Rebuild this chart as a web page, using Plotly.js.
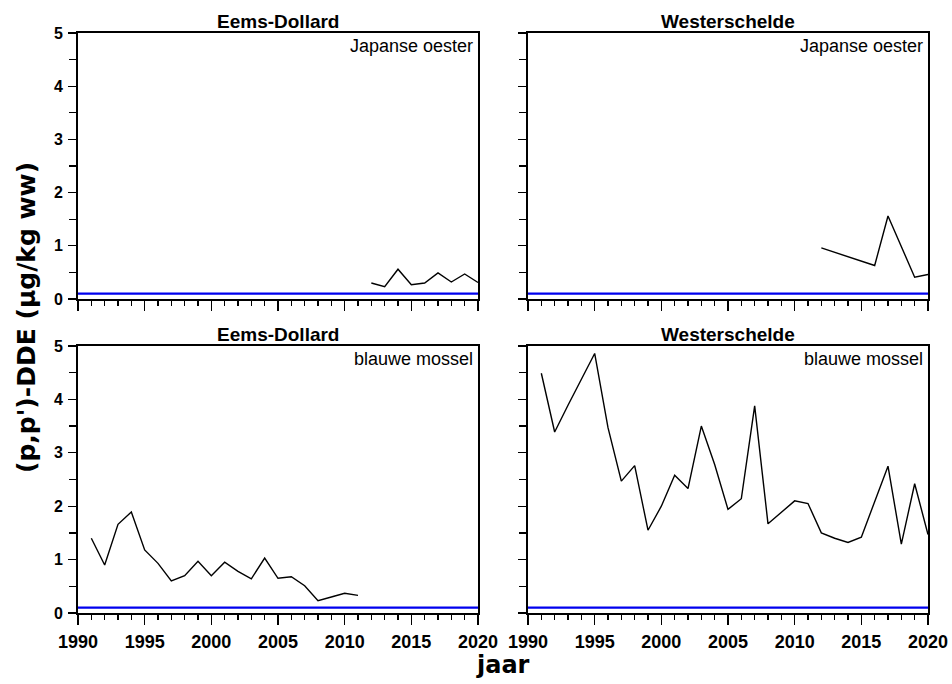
<!DOCTYPE html>
<html>
<head>
<meta charset="utf-8">
<script src="https://cdn.plot.ly/plotly-3.0.1.min.js"></script>
<style>html,body{margin:0;padding:0;background:#fff;}#chart{width:952px;height:684px;}</style>
</head>
<body>
<div id="chart"></div>
<script>
// ---- data ----
const regions = ["Eems-Dollard", "Westerschelde"];
const species = ["Japanse oester", "blauwe mossel"];

const edOesterYears = [2012, 2013, 2014, 2015, 2016, 2017, 2018, 2019, 2020];
const edOesterVals  = [0.30, 0.23, 0.56, 0.27, 0.30, 0.49, 0.32, 0.47, 0.31];

const wsOesterYears = [2012, 2016, 2017, 2018, 2019, 2020];
const wsOesterVals  = [0.96, 0.63, 1.56, 1.00, 0.41, 0.46];

const edMosselYears = [1991, 1992, 1993, 1994, 1995, 1996, 1997, 1998, 1999, 2000,
                       2001, 2002, 2003, 2004, 2005, 2006, 2007, 2008, 2009, 2010, 2011];
const edMosselVals  = [1.40, 0.90, 1.66, 1.89, 1.18, 0.93, 0.60, 0.70, 0.97, 0.70,
                       0.95, 0.78, 0.64, 1.03, 0.65, 0.68, 0.51, 0.23, 0.30, 0.37, 0.33];

const wsMosselYears = [1991, 1992, 1993, 1994, 1995, 1996, 1997, 1998, 1999, 2000,
                       2001, 2002, 2003, 2004, 2005, 2006, 2007, 2008, 2009, 2010,
                       2011, 2012, 2013, 2014, 2015, 2016, 2017, 2018, 2019, 2020];
const wsMosselVals  = [4.49, 3.39, 3.89, 4.39, 4.86, 3.47, 2.47, 2.76, 1.55, 2.00,
                       2.58, 2.33, 3.50, 2.78, 1.94, 2.14, 3.88, 1.67, 1.89, 2.10,
                       2.05, 1.50, 1.40, 1.32, 1.42, 2.08, 2.75, 1.29, 2.42, 1.47];

const refYears = [1990, 2020];
const refValue = 0.1;

const yTitle = "(p,p')-DDE (µg/kg ww)";
const xTitle = "jaar";

// ---- panels ----
const panels = [
  {xa: "x",  ya: "y",  years: edOesterYears, vals: edOesterVals, region: regions[0], sp: species[0]},
  {xa: "x2", ya: "y2", years: wsOesterYears, vals: wsOesterVals, region: regions[1], sp: species[0]},
  {xa: "x3", ya: "y3", years: edMosselYears, vals: edMosselVals, region: regions[0], sp: species[1]},
  {xa: "x4", ya: "y4", years: wsMosselYears, vals: wsMosselVals, region: regions[1], sp: species[1]}
];

const traces = [];
panels.forEach(p => {
  traces.push({x: refYears, y: refYears.map(() => refValue), xaxis: p.xa, yaxis: p.ya,
    mode: "lines", line: {color: "#0000ee", width: 2.2}, hoverinfo: "skip", showlegend: false});
  traces.push({x: p.years, y: p.vals, xaxis: p.xa, yaxis: p.ya,
    mode: "lines", line: {color: "#000000", width: 1.4}, showlegend: false});
});

const W = 952, H = 684;
const xDomL = [78 / W, 478 / W], xDomR = [528 / W, 928 / W];
const yDomT = [1 - 299 / H, 1 - 33 / H], yDomB = [1 - 613 / H, 1 - 346 / H];

const tickFont = {family: "Liberation Sans, Arial, sans-serif", size: 18, color: "#000", weight: 700};
const yTickFont = {family: "Liberation Sans, Arial, sans-serif", size: 16, color: "#000", weight: 700};

function xAxis(dom, anchor, showLabels) {
  return {domain: dom, anchor: anchor, range: [1990, 2020], dtick: 5, tick0: 1990,
    showgrid: false, zeroline: false, showline: true, linecolor: "#000", linewidth: 2, mirror: true,
    ticks: "outside", ticklen: 10, tickwidth: 1.3, tickcolor: "#000",
    showticklabels: showLabels, tickfont: tickFont, ticklabelstandoff: 1,
    minor: {dtick: 1, tick0: 1990, ticks: "outside", ticklen: 5, tickwidth: 1.3, tickcolor: "#000", showgrid: false},
    fixedrange: true};
}
function yAxis(dom, anchor, showLabels) {
  return {domain: dom, anchor: anchor, range: [0, 5], dtick: 1, tick0: 0,
    showgrid: false, zeroline: false, showline: true, linecolor: "#000", linewidth: 2, mirror: true,
    ticks: "outside", ticklen: 8, tickwidth: 1.3, tickcolor: "#000",
    showticklabels: showLabels, tickfont: yTickFont, ticklabelstandoff: 2,
    minor: {dtick: 0.5, tick0: 0, ticks: "outside", ticklen: 7, tickwidth: 1.3, tickcolor: "#000", showgrid: false},
    fixedrange: true};
}

const annotations = [];
panels.forEach(p => {
  const xd = p.xa + " domain", yd = p.ya + " domain";
  annotations.push({text: "<b>" + p.region + "</b>", xref: xd, yref: yd, x: 0.5, y: 1,
    xanchor: "center", yanchor: "bottom", yshift: -1, showarrow: false,
    font: {family: "Liberation Sans, Arial, sans-serif", size: 19, color: "#000"}});
  annotations.push({text: p.sp, xref: xd, yref: yd, x: 1, y: 1,
    xanchor: "right", yanchor: "top", xshift: -3, yshift: -1, showarrow: false,
    font: {family: "Liberation Sans, Arial, sans-serif", size: 18, color: "#000"}});
});
annotations.push({text: "<b>" + yTitle + "</b>", xref: "paper", yref: "paper",
  x: 26 / W, y: 1 - 318 / H, xanchor: "center", yanchor: "middle", textangle: -90, showarrow: false,
  font: {family: "DejaVu Sans, Verdana, sans-serif", size: 25, color: "#000"}});
annotations.push({text: "<b>" + xTitle + "</b>", xref: "paper", yref: "paper",
  x: 503 / W, y: 1 - 665 / H, xanchor: "center", yanchor: "middle", showarrow: false,
  font: {family: "DejaVu Sans, Verdana, sans-serif", size: 24, color: "#000"}});

const layout = {
  width: W, height: H, margin: {l: 0, r: 0, t: 0, b: 0},
  paper_bgcolor: "#fff", plot_bgcolor: "#fff", showlegend: false,
  xaxis: xAxis(xDomL, "y", false), yaxis: yAxis(yDomT, "x", true),
  xaxis2: xAxis(xDomR, "y2", false), yaxis2: yAxis(yDomT, "x2", false),
  xaxis3: xAxis(xDomL, "y3", true), yaxis3: yAxis(yDomB, "x3", true),
  xaxis4: xAxis(xDomR, "y4", true), yaxis4: yAxis(yDomB, "x4", false),
  annotations: annotations
};

Plotly.newPlot("chart", traces, layout, {displayModeBar: false, staticPlot: true});
</script>
</body>
</html>
